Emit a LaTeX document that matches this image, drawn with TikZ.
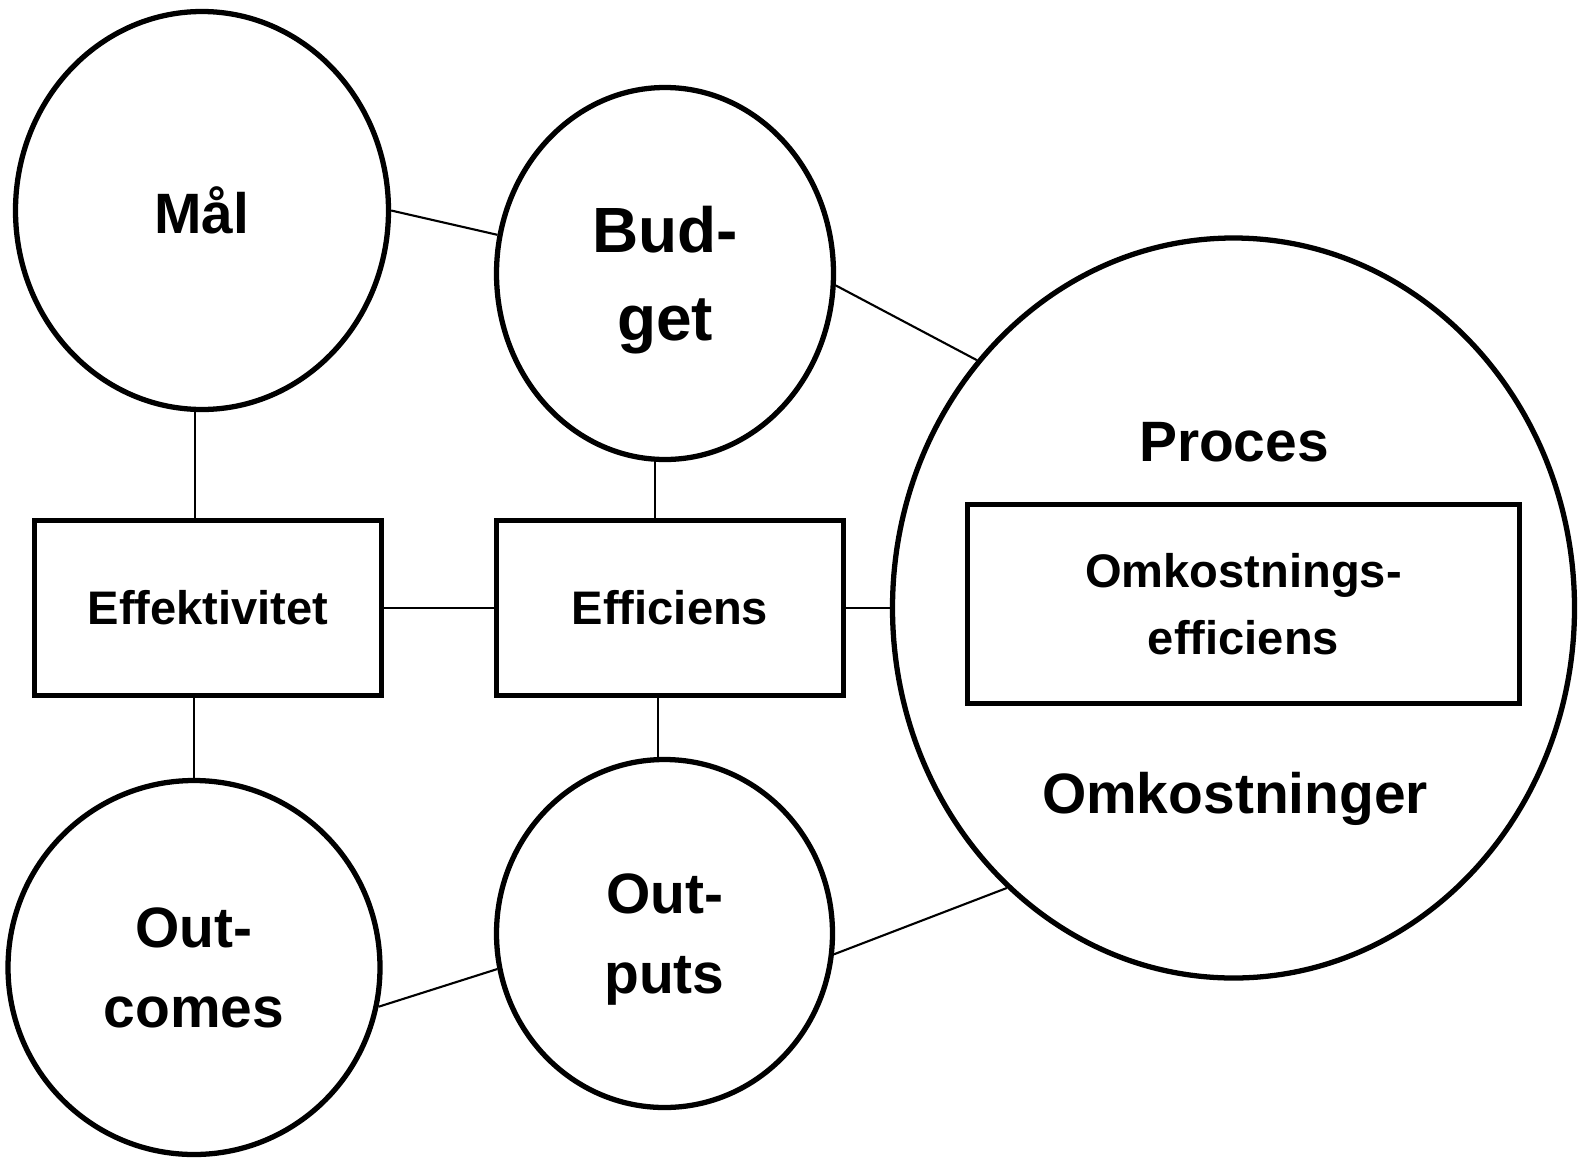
\documentclass[tikz,border=0pt]{standalone}
\usepackage{fontspec}
\setmainfont{Liberation Sans}
\usetikzlibrary{shapes.geometric}

\begin{document}
\begin{tikzpicture}[
    % ---- styles ----
    C/.style={ellipse, draw=black, line width=1.5pt, inner sep=0pt,
              align=center, font=\fontsize{16.2}{22.7}\selectfont\bfseries},
    R/.style={rectangle, draw=black, line width=1.5pt, inner sep=0pt,
              align=center, font=\fontsize{13.4}{19}\selectfont\bfseries},
    T/.style={font=\fontsize{16.2}{22.7}\selectfont\bfseries, anchor=base},
    L/.style={line width=0.6pt},
]
\useasboundingbox (0,0) rectangle (15.82,11.59);

% ===== Column 1: goal, effectiveness, outcomes =====
\node[C, minimum width=3.73cm, minimum height=3.98cm] (mal) at (2.02, 9.485) {Mål};
\node[R, minimum width=3.47cm, minimum height=1.75cm] (effe) at (2.08, 5.51) {Effektivitet};
\node[C, minimum width=3.72cm, minimum height=3.74cm] (outc) at (1.94, 1.915) {Out-\\comes};

% ===== Column 2: budget, efficiency, outputs =====
\node[C, minimum width=3.37cm, minimum height=3.72cm,
      font=\fontsize{18.2}{25}\selectfont\bfseries, text depth=0pt] (budget) at (6.65, 8.855) {Bud-\\get};
\node[R, minimum width=3.47cm, minimum height=1.75cm] (effi) at (6.70, 5.51) {Efficiens};
\node[C, minimum width=3.36cm, minimum height=3.48cm, text depth=0pt] (outp) at (6.645, 2.255) {Out-\\puts};

% ===== Column 3: process =====
\node[C, minimum width=6.82cm, minimum height=7.40cm] (proces) at (12.335, 5.51) {};
\node[T] (proctxt) at (12.34, 6.98) {Proces};
\node[R, minimum width=5.52cm, minimum height=1.99cm] (omkeff) at (12.435, 5.55) {Omkostnings-\\efficiens};
\node[T] (omktxt) at (12.35, 3.46) {Omkostninger};

% connectors
\foreach \a/\b in {mal.east/budget.167, budget.-4/proces.136,
                   effe.east/effi.west, effi.east/proces.west,
                   outc.-12/outp.192, outp.-7/proces.231}
    \draw[L] (\a) -- (\b);

% vertical links to the boxes
\draw[L] (mal.268) -- (mal.268 |- effe.north);
\draw[L] (budget.267.5) -- (budget.267.5 |- effi.north);
\draw[L] (outc.north |- effe.south) -- (outc.north);
\draw[L] (outp.92 |- effi.south) -- (outp.92);

\end{tikzpicture}
\end{document}
